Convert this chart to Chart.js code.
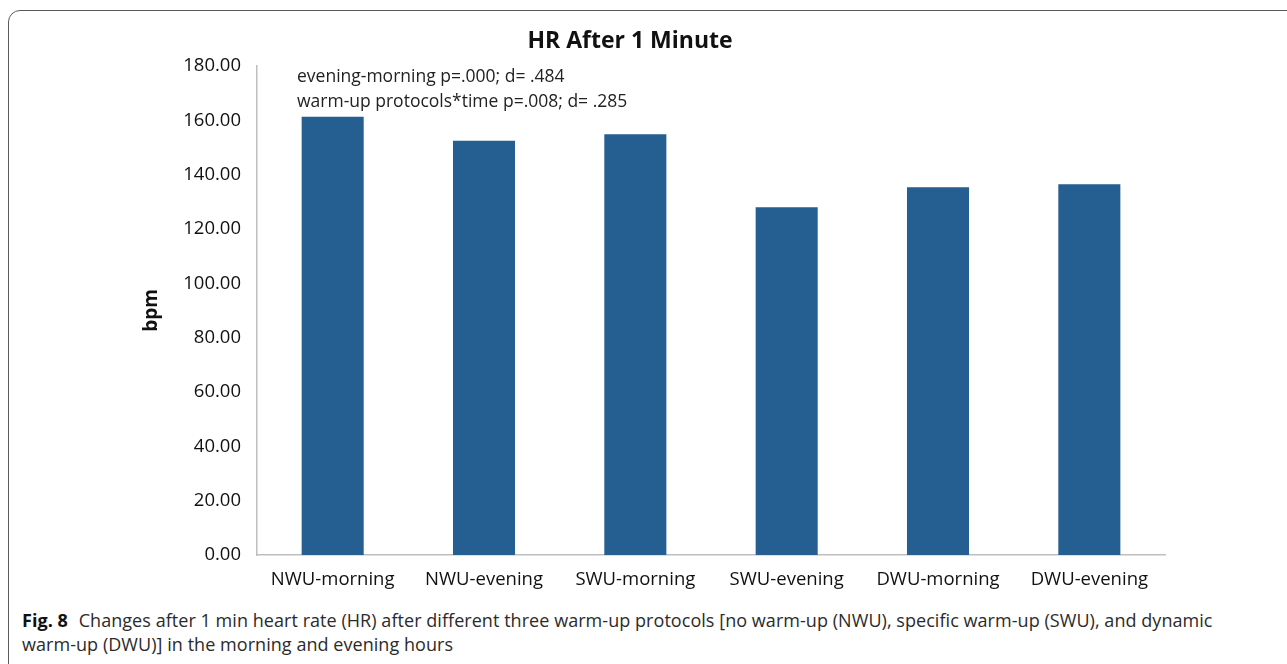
<!DOCTYPE html>
<html>
<head>
<meta charset="utf-8">
<script src="https://cdn.jsdelivr.net/npm/chart.js@4.4.1/dist/chart.umd.min.js"></script>
<style>
  html, body { margin:0; padding:0; background:#fff; overflow:hidden; }
  #wrap { position:relative; width:1287px; height:664px; overflow:hidden; }
  #frame { position:absolute; left:8px; top:10px; width:1320px; height:700px;
    border:1.5px solid #5a5a5a; border-radius:12px; box-sizing:border-box; }
  #cv { position:absolute; left:0; top:0; }
  #caption { position:absolute; left:22px; top:608px; width:1200px;
    font-family:"Open Sans", sans-serif; font-size:18px; line-height:24px; color:#2b2b2b; letter-spacing:0.05px; }
  #caption b { font-size:18px; color:#111; margin-right:6px; }
</style>
</head>
<body>
<div id="wrap">
  <div id="frame"></div>
  <canvas id="cv" width="1287" height="600"></canvas>
  <div id="caption"><b>Fig. 8</b> Changes after 1 min heart rate (HR) after different three warm-up protocols [no warm-up (NWU), specific warm-up (SWU), and dynamic warm-up (DWU)] in the morning and evening hours</div>
</div>
<script>
// categorias e valores
const categorias = ['NWU-morning', 'NWU-evening', 'SWU-morning', 'SWU-evening', 'DWU-morning', 'DWU-evening'];
const fcBpm = [161.3, 152.5, 154.9, 128.0, 135.4, 136.5];
const tituloGrafico = 'HR After 1 Minute';
const notas = ['evening-morning p=.000; d= .484', 'warm-up protocols*time p=.008; d= .285'];

const fonte = '"Open Sans", sans-serif';

// título e notas desenhados no canvas
const textos = {
  id: 'textos',
  afterDraw(chart) {
    const ctx = chart.ctx;
    const area = chart.chartArea;
    ctx.save();
    ctx.fillStyle = '#111';
    ctx.font = 'bold 23px ' + fonte;
    ctx.textAlign = 'center';
    ctx.textBaseline = 'middle';
    ctx.fillText(tituloGrafico, 630, 41);
    ctx.font = '17.5px ' + fonte;
    ctx.textAlign = 'left';
    ctx.fillStyle = '#222';
    notas.forEach((t, i) => ctx.fillText(t, area.left + 40, 77 + i * 25));
    ctx.restore();
  }
};

new Chart(document.getElementById('cv').getContext('2d'), {
  type: 'bar',
  data: {
    labels: categorias,
    datasets: [{ label: 'bpm', data: fcBpm, backgroundColor: '#255e91',
      barPercentage: 0.41, categoryPercentage: 1 }]
  },
  options: {
    responsive: false,
    animation: false,
    layout: { padding: { left: 130, top: 66, right: 122, bottom: 0 } },
    plugins: { legend: { display: false }, tooltip: { enabled: false }, title: { display: false } },
    scales: {
      x: {
        grid: { display: false, drawTicks: false },
        border: { display: true, color: '#bfbfbf', width: 1.5 },
        ticks: { color: '#111', font: { family: fonte, size: 18.5 }, padding: 14, maxRotation: 0, autoSkip: false },
        afterFit(s) { s.height = 45; }
      },
      y: {
        min: 0, max: 180,
        grid: { display: false, drawTicks: false },
        border: { display: true, color: '#bfbfbf', width: 1.5 },
        ticks: { stepSize: 20, color: '#111', font: { family: fonte, size: 18.5 }, padding: 16,
          callback: (v) => v.toFixed(2) },
        title: { display: true, text: 'bpm', color: '#111', font: { family: fonte, size: 19, weight: 'bold' },
          padding: { top: 10, bottom: 0 } },
        afterFit(s) { s.width = 127; }
      }
    }
  },
  plugins: [textos]
});
</script>
</body>
</html>
